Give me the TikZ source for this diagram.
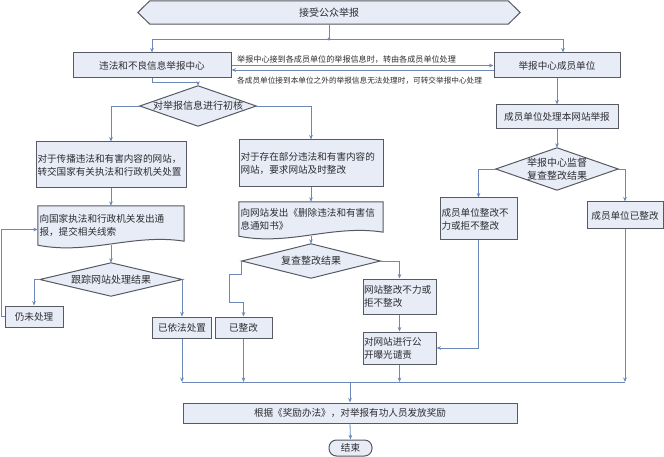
\documentclass[tikz,border=0pt]{standalone}
\usepackage{fontspec}
\newfontfamily\cjk{Noto Sans CJK SC}
\usetikzlibrary{arrows.meta,calc,backgrounds}
\definecolor{boxc}{RGB}{88,90,98}
\definecolor{fillc}{RGB}{231,236,246}
\definecolor{linec}{RGB}{108,136,184}
\definecolor{txtc}{RGB}{45,45,50}
\tikzset{
  boxshape/.style={draw=boxc, fill=fillc, line width=1pt},
  box/.style={boxshape, inner sep=0pt, text=txtc, font=\cjk\fontsize{9.6}{13}\selectfont},
  plain/.style={inner sep=0pt, text=txtc, font=\cjk\fontsize{9.6}{13}\selectfont},
  dtext/.style={inner sep=0pt, text=txtc, align=center, font=\cjk\fontsize{10}{13}\selectfont},
  lbl/.style={inner sep=0pt, text=txtc, anchor=west},
  conn/.style={draw=linec, line width=0.8pt},
  arr/.style={conn, -{Stealth[length=4.5pt,width=3.6pt]}},
}
\newcommand{\dianode}[6]{%
  \node[dtext, minimum width=#4pt, minimum height=#5pt] (#1) at (#2,#3) {#6};
  \begin{pgfonlayer}{background}
    \path[boxshape] (#1.north) -- (#1.east) -- (#1.south) -- (#1.west) -- cycle;
  \end{pgfonlayer}}
\newcommand{\docshape}[1]{%
  \begin{pgfonlayer}{background}
    \path[boxshape] (#1.south west) -- (#1.north west) -- (#1.north east) -- ([yshift=4pt]#1.south east)
      .. controls ($(#1.south east)!0.35!(#1.south west)+(0pt,12pt)$) and ($(#1.south east)!0.65!(#1.south west)+(0pt,-10pt)$) .. (#1.south west) -- cycle;
  \end{pgfonlayer}}
\begin{document}
\begin{tikzpicture}[x=1pt,y=-1pt]
\useasboundingbox (0,0) rectangle (664,457);
\begin{pgfonlayer}{background}
  \fill[white] (0,0) rectangle (664,457);
\end{pgfonlayer}

% start hexagon
\node[dtext, minimum width=382pt, minimum height=23pt] (hex) at (329,12.5) {接受公众举报};
\begin{pgfonlayer}{background}
  \path[boxshape] (hex.west) -- ([xshift=12pt]hex.north west) -- ([xshift=-12pt]hex.north east) -- (hex.east)
    -- ([xshift=-12pt]hex.south east) -- ([xshift=12pt]hex.south west) -- cycle;
\end{pgfonlayer}

% top boxes
\node[box, minimum width=158pt, minimum height=25pt] (A) at (152,65.5) {违法和不良信息举报中心};
\node[box, minimum width=126pt, minimum height=25pt] (B) at (557,65.5) {举报中心成员单位};

\node[lbl, font=\cjk\fontsize{8.1}{10}\selectfont] (l1) at (237,59) {举报中心接到各成员单位的举报信息时，转由各成员单位处理};
\node[lbl, font=\cjk\fontsize{7.65}{10}\selectfont] (l2) at (237,81) {各成员单位接到本单位之外的举报信息无法处理时，可转交举报中心处理};

% left / middle column
\dianode{C}{198}{106}{116}{40}{对举报信息进行初核}
\node[box, minimum width=150pt, minimum height=46pt, text width=147pt, align=left] (D) at (111,165)
  {对于传播违法和有害内容的网站，\\转交国家有关执法和行政机关处置};
\node[box, minimum width=144pt, minimum height=47pt, text width=141pt, align=left] (E) at (311,163.5)
  {对于存在部分违法和有害内容的\\网站，要求网站及时整改};
\node[plain, minimum width=146pt, minimum height=39pt, text width=143pt, align=left] (F) at (111,225.5)
  {向国家执法和行政机关发出通\\报，提交相关线索};
\docshape{F}
\node[plain, minimum width=144pt, minimum height=34pt, text width=141pt, align=left] (J) at (311,219)
  {向网站发出《删除违法和有害信\\息通知书》};
\docshape{J}
\dianode{H}{111}{279.5}{142}{33}{跟踪网站处理结果}
\dianode{K}{311}{261}{138}{34}{复查整改结果}
\node[box, minimum width=58pt, minimum height=21pt] (G) at (34,316.5) {仍未处理};
\node[box, minimum width=59pt, minimum height=21pt] (I) at (182,327.5) {已依法处置};
\node[box, minimum width=57pt, minimum height=21pt] (L) at (243.5,327.5) {已整改};
\node[box, minimum width=73pt, minimum height=35pt, text width=71pt, align=left] (M) at (399.5,296.5)
  {网站整改不力或\\拒不整改};
\node[box, minimum width=73pt, minimum height=32pt, text width=71pt, align=left] (N) at (399.5,348)
  {对网站进行公\\开曝光谴责};

% right column
\node[box, minimum width=122pt, minimum height=24pt] (P) at (557,117) {成员单位处理本网站举报};
\dianode{Q}{557}{169}{122}{42}{举报中心监督\\复查整改结果}
\node[box, minimum width=77pt, minimum height=42pt, text width=74pt, align=left] (O) at (478.5,219)
  {成员单位整改不\\力或拒不整改};
\node[box, minimum width=76pt, minimum height=27pt] (R) at (625,215.5) {成员单位已整改};

% bottom
\node[box, minimum width=334pt, minimum height=20pt] (S) at (350,413) {根据《奖励办法》，对举报有功人员发放奖励};
\node[box, minimum width=43pt, minimum height=16pt, rounded corners=7.5pt] (T) at (350.5,448) {结束};

% connectors
\coordinate (j0) at (329,39);
\coordinate (bus) at (0,382);
\draw[conn] (hex.south) -- (j0);
\draw[conn] (A.north |- j0) -- ([xshift=6pt]B.north |- j0);
\draw[arr] (A.north |- j0) -- (A.north);
\draw[arr] ([xshift=6pt]B.north |- j0) -- ([xshift=6pt]B.north);
\fill[linec] (j0) circle (1.6pt);

\draw[arr] (A.east) -- (B.west);
\draw[arr] ([yshift=-4.5pt]B.west) -- ([yshift=-4.5pt]A.east);

\draw[arr] (A.south) -- ++(0,4) -| (C.north);
\draw[arr] (C.west) -| (D.north);
\draw[arr] (C.east) -| (E.north);
\draw[arr] (D.south) -- (F.north);
\draw[arr] (F.south) -- (H.north);
\draw[arr] (H.west) -| (G.north);
\draw[arr] (G.west) -- ++(-3,0) |- ([yshift=-4pt]F.west);
\draw[arr] (H.east) -| (I.north);
\draw[arr] (E.south) -- (J.north);
\draw[arr] (J.south) -- (K.north);
\draw[arr] (K.west) -- ++(0,13) -- ++(-12,0) -- ++(0,28) -| (L.north);
\draw[arr] (K.east) -| (M.north);
\draw[arr] (M.south) -- (N.north);
\draw[arr] (O.south) |- (N.east);

\draw[arr] (B.south) -- (P.north);
\draw[arr] (P.south) -- (Q.north);
\draw[arr] (Q.west) -| (O.north);
\draw[arr] (Q.east) -| (R.north);

\draw[conn] (I.south |- bus) -- (R.south |- bus);
\draw[arr] (I.south) -- (I.south |- bus);
\draw[arr] (L.south) -- (L.south |- bus);
\draw[arr] (N.south) -- (N.south |- bus);
\draw[arr] (R.south) -- (R.south |- bus);
\draw[arr] (S.north |- bus) -- (S.north);
\draw[arr] (S.south) -- (T.north);
\end{tikzpicture}
\end{document}
